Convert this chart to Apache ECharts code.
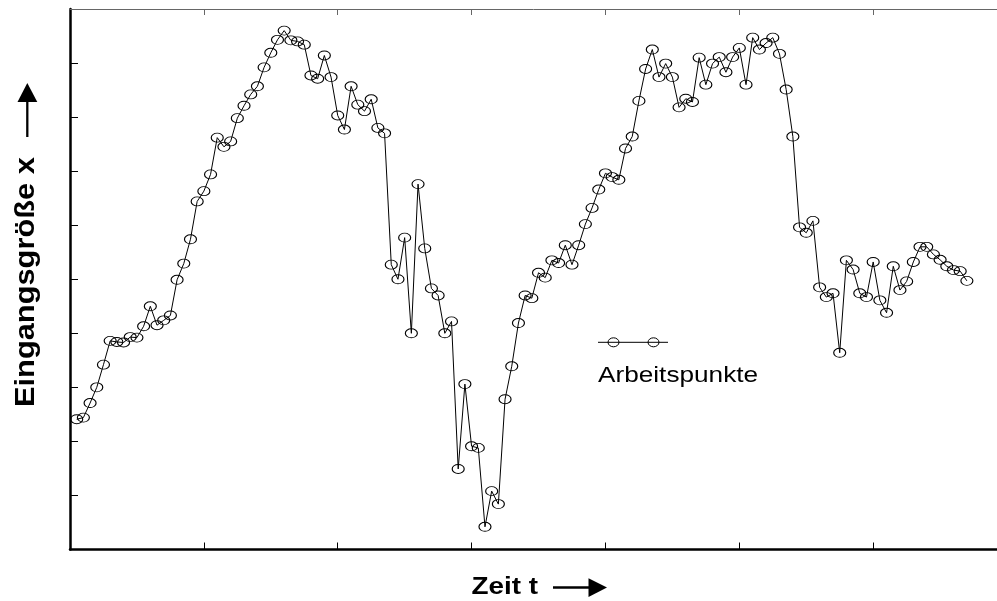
<!DOCTYPE html>
<html>
<head>
<meta charset="utf-8">
<script src="https://cdn.jsdelivr.net/npm/echarts@6/dist/echarts.min.js"></script>
<style>html,body{margin:0;padding:0;background:#fff;}#c{width:997px;height:601px;}</style>
</head>
<body>
<div id="c"></div>
<script>
// Eingangsgröße x at successive time samples (sample 1 .. 134)
const values = [2.41,2.44,2.71,3.00,3.42,3.86,3.84,3.83,3.93,3.92,
4.13,4.50,4.15,4.24,4.33,4.99,5.29,5.74,6.44,6.63,
6.94,7.62,7.45,7.55,7.98,8.21,8.42,8.57,8.92,9.19,
9.43,9.60,9.42,9.40,9.34,8.77,8.71,9.14,8.74,8.03,
7.77,8.57,8.23,8.11,8.33,7.80,7.70,5.27,5.00,5.77,
4.00,6.76,5.57,4.83,4.70,4.00,4.22,1.49,3.06,1.91,
1.88,0.42,1.08,0.84,2.78,3.39,4.19,4.70,4.65,5.12,
5.03,5.35,5.30,5.63,5.27,5.63,6.02,6.32,6.66,6.96,
6.89,6.84,7.42,7.64,8.30,8.89,9.25,8.74,8.99,8.74,
8.18,8.34,8.28,9.10,8.60,8.99,9.11,8.83,9.11,9.28,
8.60,9.47,9.25,9.37,9.47,9.17,8.51,7.64,5.96,5.86,
6.08,4.85,4.67,4.74,3.64,5.35,5.18,4.74,4.67,5.32,
4.61,4.38,5.24,4.80,4.96,5.32,5.60,5.60,5.46,5.36,
5.24,5.17,5.15,4.97];
const xTicks = [20, 40, 60, 80, 100, 120];
const yTicks = [1, 2, 3, 4, 5, 6, 7, 8, 9];
const xLabel = 'Zeit t';
const yLabel = 'Eingangsgröße x';
const legendLabel = 'Arbeitspunkte';

const seriesData = values.map((v, i) => [i + 1, v]);

const chart = echarts.init(document.getElementById('c'), null, {renderer: 'canvas'});
const font = '"Liberation Sans", Arial, Helvetica, sans-serif';
chart.setOption({
  animation: false,
  backgroundColor: '#fff',
  grid: {left: 70, right: 0, top: 9, bottom: 51.5, containLabel: false},
  xAxis: [{
    type: 'value', min: 0, max: 138.5, position: 'bottom',
    axisLine: {show: true, lineStyle: {color: '#000', width: 2.5}},
    axisTick: {show: true, inside: true, length: 7, customValues: xTicks, lineStyle: {color: '#000', width: 1}},
    axisLabel: {show: false},
    splitLine: {show: false}
  }, {
    type: 'value', min: 0, max: 138.5, position: 'top',
    axisLine: {show: true, lineStyle: {color: '#666', width: 1}},
    axisTick: {show: true, inside: true, length: 6, customValues: xTicks, lineStyle: {color: '#666', width: 1}},
    axisLabel: {show: false},
    splitLine: {show: false}
  }],
  yAxis: [{
    type: 'value', min: 0, max: 10, interval: 1, position: 'left',
    axisLine: {show: true, lineStyle: {color: '#000', width: 2.5}},
    axisTick: {show: true, inside: true, length: 8, customValues: yTicks, lineStyle: {color: '#000', width: 1}},
    axisLabel: {show: false},
    splitLine: {show: false}
  }],
  series: [{
    type: 'line',
    data: seriesData,
    xAxisIndex: 0, yAxisIndex: 0,
    showAllSymbol: true,
    symbol: 'circle',
    symbolSize: [12, 9],
    lineStyle: {color: '#000', width: 1},
    itemStyle: {color: 'rgba(0,0,0,0)', borderColor: '#000', borderWidth: 1},
    emphasis: {disabled: true},
    silent: true
  }],
  graphic: [
    // legend
    {type: 'line', shape: {x1: 598, y1: 342.3, x2: 668, y2: 342.3}, style: {stroke: '#000', lineWidth: 1}},
    {type: 'ellipse', shape: {cx: 613.5, cy: 342.3, rx: 5.5, ry: 4.5}, style: {stroke: '#000', fill: 'rgba(0,0,0,0)', lineWidth: 1}},
    {type: 'ellipse', shape: {cx: 653.5, cy: 342.3, rx: 5.5, ry: 4.5}, style: {stroke: '#000', fill: 'rgba(0,0,0,0)', lineWidth: 1}},
    {type: 'text', x: 598, y: 375.5, scaleX: 1.19, style: {text: legendLabel, font: '22px ' + font, fill: '#000', textAlign: 'left', textVerticalAlign: 'middle'}},
    // x axis title + arrow
    {type: 'text', x: 471.5, y: 587.5, scaleX: 1.16, style: {text: xLabel, font: 'bold 24px ' + font, fill: '#000', textAlign: 'left', textVerticalAlign: 'middle'}},
    {type: 'line', shape: {x1: 553, y1: 587.5, x2: 592, y2: 587.5}, style: {stroke: '#000', lineWidth: 2.3}},
    {type: 'polygon', shape: {points: [[607, 587.5], [588.5, 578.3], [588.5, 597]]}, style: {fill: '#000'}},
    // y axis title + arrow
    {type: 'text', x: 26, y: 407, rotation: Math.PI / 2, scaleX: 1.1, style: {text: yLabel, font: 'bold 28px ' + font, fill: '#000', textAlign: 'left', textVerticalAlign: 'middle'}},
    {type: 'line', shape: {x1: 27.3, y1: 137, x2: 27.3, y2: 100}, style: {stroke: '#000', lineWidth: 2.3}},
    {type: 'polygon', shape: {points: [[27.3, 83], [17.5, 102], [37.3, 102]]}, style: {fill: '#000'}}
  ]
});
</script>
</body>
</html>
